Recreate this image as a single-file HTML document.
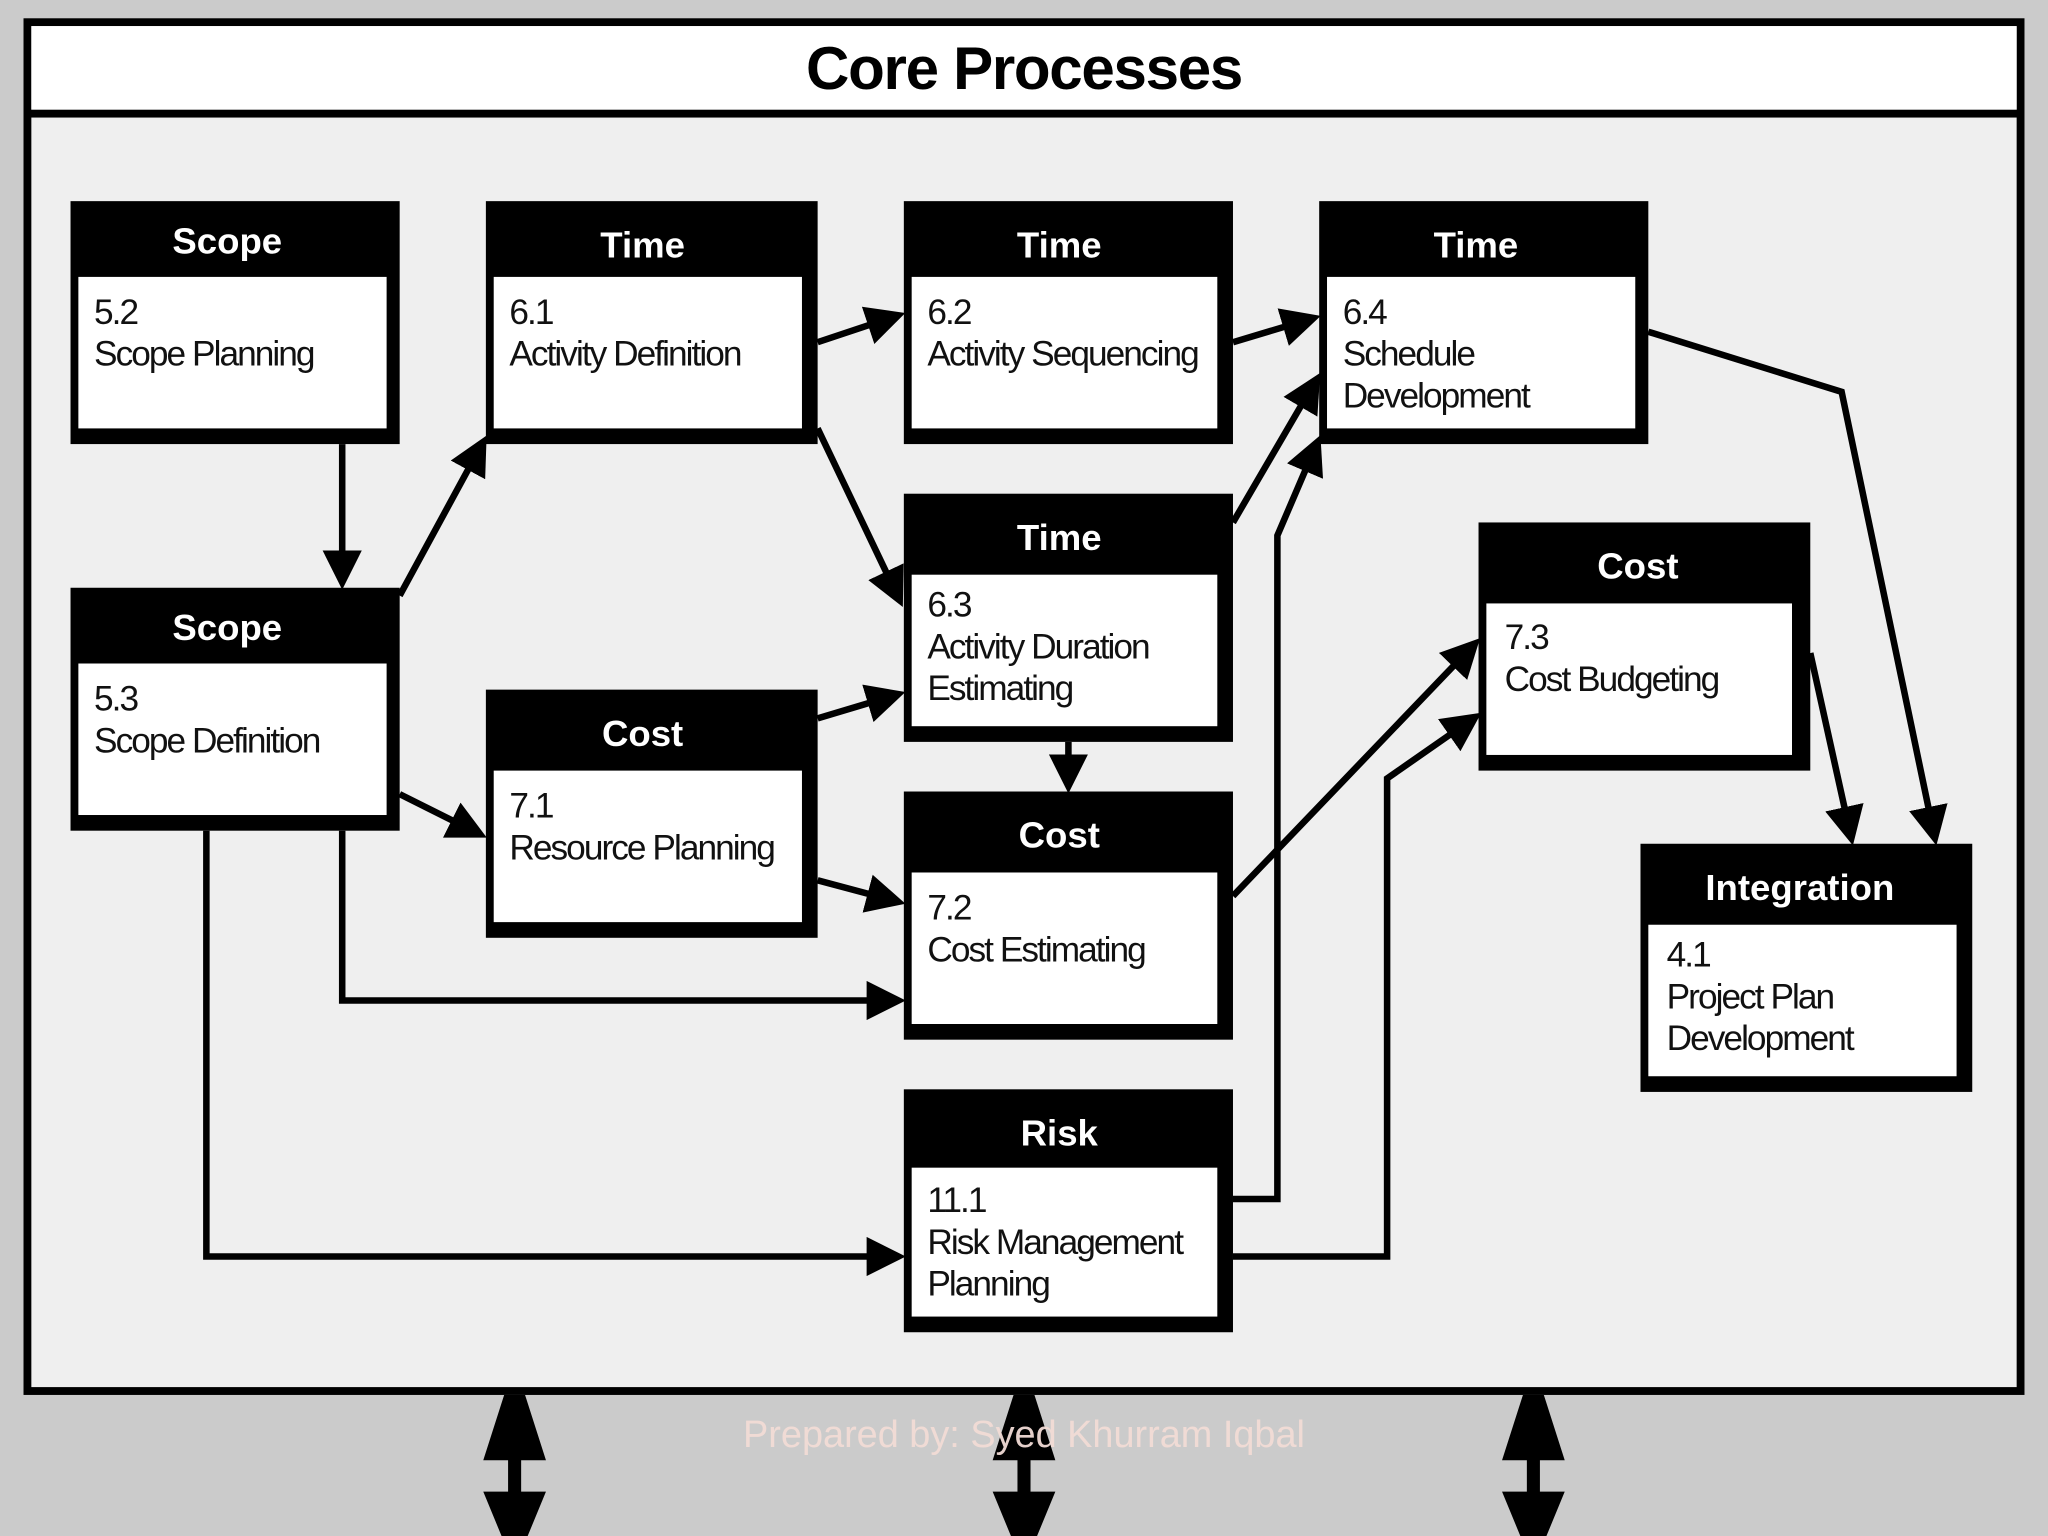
<!DOCTYPE html>
<html><head><meta charset="utf-8"><style>
html,body{margin:0;padding:0;background:#cbcbcb;}
svg{display:block;}
text{font-family:"Liberation Sans",sans-serif;}
.h{font-weight:bold;font-size:28px;fill:#fff;text-anchor:middle;}
.b{font-size:27px;fill:#111;letter-spacing:-1.5px;}
.l{stroke:#000;stroke-width:5;fill:none;marker-end:url(#a);}
</style></head><body>
<svg width="2048" height="1536" viewBox="0 0 1568 1176" xmlns="http://www.w3.org/2000/svg">
<defs><marker id="a" markerWidth="6" markerHeight="6" refX="4.5" refY="3" orient="auto" markerUnits="strokeWidth"><path d="M0,0 L6,3 L0,6 z" fill="#000"/></marker></defs>
<rect x="0" y="0" width="1568" height="1176" fill="#cbcbcb"/>
<rect x="21" y="17" width="1526" height="1048" fill="#efefef" stroke="#000" stroke-width="6"/>
<rect x="24" y="20" width="1520" height="64" fill="#fff"/>
<rect x="21" y="84" width="1526" height="6" fill="#000"/>
<text x="784" y="68" style="font-size:46px;font-weight:bold;text-anchor:middle;letter-spacing:-1px" fill="#000">Core Processes</text>

<g>
<!-- boxes -->
<g><rect x="54" y="154" width="252" height="186" fill="#000"/><rect x="60" y="212" width="236" height="116" fill="#fff"/><text class="h" x="174" y="194">Scope</text><text class="b" x="72" y="248">5.2</text><text class="b" x="72" y="280">Scope Planning</text></g>
<g><rect x="54" y="450" width="252" height="186" fill="#000"/><rect x="60" y="508" width="236" height="116" fill="#fff"/><text class="h" x="174" y="490">Scope</text><text class="b" x="72" y="544">5.3</text><text class="b" x="72" y="576">Scope Definition</text></g>
<g><rect x="372" y="154" width="254" height="186" fill="#000"/><rect x="378" y="212" width="236" height="116" fill="#fff"/><text class="h" x="492" y="197">Time</text><text class="b" x="390" y="248">6.1</text><text class="b" x="390" y="280">Activity Definition</text></g>
<g><rect x="692" y="154" width="252" height="186" fill="#000"/><rect x="698" y="212" width="234" height="116" fill="#fff"/><text class="h" x="811" y="197">Time</text><text class="b" x="710" y="248">6.2</text><text class="b" x="710" y="280">Activity Sequencing</text></g>
<g><rect x="1010" y="154" width="252" height="186" fill="#000"/><rect x="1016" y="212" width="236" height="116" fill="#fff"/><text class="h" x="1130" y="197">Time</text><text class="b" x="1028" y="248">6.4</text><text class="b" x="1028" y="280">Schedule</text><text class="b" x="1028" y="312">Development</text></g>
<g><rect x="692" y="378" width="252" height="190" fill="#000"/><rect x="698" y="440" width="234" height="116" fill="#fff"/><text class="h" x="811" y="421">Time</text><text class="b" x="710" y="472">6.3</text><text class="b" x="710" y="504">Activity Duration</text><text class="b" x="710" y="536">Estimating</text></g>
<g><rect x="372" y="528" width="254" height="190" fill="#000"/><rect x="378" y="590" width="236" height="116" fill="#fff"/><text class="h" x="492" y="571">Cost</text><text class="b" x="390" y="626">7.1</text><text class="b" x="390" y="658">Resource Planning</text></g>
<g><rect x="692" y="606" width="252" height="190" fill="#000"/><rect x="698" y="668" width="234" height="116" fill="#fff"/><text class="h" x="811" y="649">Cost</text><text class="b" x="710" y="704">7.2</text><text class="b" x="710" y="736">Cost Estimating</text></g>
<g><rect x="1132" y="400" width="254" height="190" fill="#000"/><rect x="1138" y="462" width="234" height="116" fill="#fff"/><text class="h" x="1254" y="443">Cost</text><text class="b" x="1152" y="497">7.3</text><text class="b" x="1152" y="529">Cost Budgeting</text></g>
<g><rect x="1256" y="646" width="254" height="190" fill="#000"/><rect x="1262" y="708" width="236" height="116" fill="#fff"/><text class="h" x="1378" y="689">Integration</text><text class="b" x="1276" y="740">4.1</text><text class="b" x="1276" y="772">Project Plan</text><text class="b" x="1276" y="804">Development</text></g>
<g><rect x="692" y="834" width="252" height="186" fill="#000"/><rect x="698" y="894" width="234" height="114" fill="#fff"/><text class="h" x="811" y="877">Risk</text><text class="b" x="710" y="928">11.1</text><text class="b" x="710" y="960">Risk Management</text><text class="b" x="710" y="992">Planning</text></g>
</g>

<!-- connectors -->
<path class="l" d="M262,340 L262,444"/>
<path class="l" d="M306,456 L369,340"/>
<path class="l" d="M306,608 L366,638"/>
<path class="l" d="M262,636 L262,766 L686,766"/>
<path class="l" d="M158,636 L158,962 L686,962"/>
<path class="l" d="M626,262 L686,242"/>
<path class="l" d="M626,328 L688,458"/>
<path class="l" d="M944,262 L1004,244"/>
<path class="l" d="M944,400 L1007,292"/>
<path class="l" d="M818,568 L818,600"/>
<path class="l" d="M626,550 L686,532"/>
<path class="l" d="M626,674 L686,690"/>
<path class="l" d="M944,686 L1128,494"/>
<path class="l" d="M944,918 L978,918 L978,410 L1008,340"/>
<path class="l" d="M944,962 L1062,962 L1062,596 L1128,550"/>
<path class="l" d="M1262,254 L1410,300 L1481,640"/>
<path class="l" d="M1386,500 L1417,640"/>

<!-- bottom arrows -->
<g fill="#000">
<path d="M386,1068 L402,1068 L418,1118 L370,1118 Z M389,1118 h10 v24 h-10 Z M370,1142 L418,1142 L404,1176 L384,1176 Z"/>
<path d="M776,1068 L792,1068 L808,1118 L760,1118 Z M779,1118 h10 v24 h-10 Z M760,1142 L808,1142 L794,1176 L774,1176 Z"/>
<path d="M1166,1068 L1182,1068 L1198,1118 L1150,1118 Z M1169,1118 h10 v24 h-10 Z M1150,1142 L1198,1142 L1184,1176 L1164,1176 Z"/>
</g>
<text x="784" y="1108" style="font-size:29px;text-anchor:middle" fill="#f2dcd6" opacity="0.95">Prepared by: Syed Khurram Iqbal</text>
</svg>
</body></html>
